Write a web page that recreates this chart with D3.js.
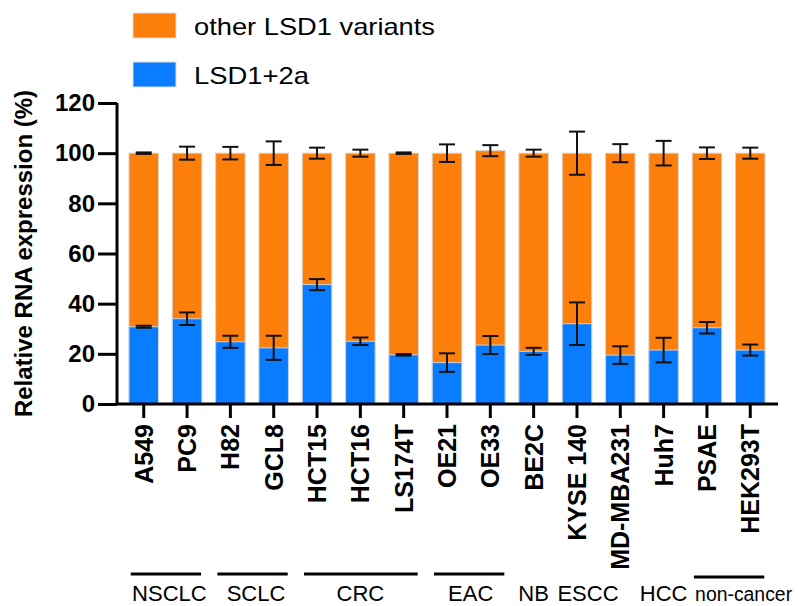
<!DOCTYPE html>
<meta charset="utf-8">
<script src="https://d3js.org/d3.v7.min.js"></script>
<style>
  body { margin: 0; background: #fff; }
  svg { font-family: "Liberation Sans", Arial, sans-serif; }
</style>
<div id="my_dataviz"></div>
<script>
// cell lines and values (%)
var cellLines = ["A549", "PC9", "H82", "GCL8", "HCT15", "HCT16", "LS174T", "OE21", "OE33",
                 "BE2C", "KYSE 140", "MD-MBA231", "Huh7", "PSAE", "HEK293T"];
var lsd2a    = [30.8, 34, 24.8, 22.4, 47.6, 25, 19.6, 16.5, 23.5, 21, 32, 19.5, 21.5, 30.4, 21.5];
var lsd2aErr = [0.4, 2.5, 2.4, 4.8, 2.2, 1.5, 0.3, 3.7, 3.6, 1.4, 8.5, 3.5, 4.9, 2.3, 2.2];
var total    = [100, 100, 100, 100, 100, 100, 100, 100, 101, 100, 100, 100, 100, 100, 100];
var totalErr = [0.3, 2.6, 2.5, 4.7, 2.2, 1.4, 0.3, 3.5, 2.2, 1.4, 8.6, 3.6, 4.9, 2.3, 2.2];

// tumour groups (first and last cell line index), and whether a bracket line is drawn
var groupNames = ["NSCLC", "SCLC", "CRC", "EAC", "NB", "ESCC", "HCC", "non-cancer"];
var groupFrom  = [0, 2, 4, 7, 9, 10, 12, 13];
var groupTo    = [1, 3, 6, 8, 9, 10, 12, 14];
var groupLine  = [true, true, true, true, false, false, false, true];

var yTicks = [0, 20, 40, 60, 80, 100, 120];
var seriesNames = ["other LSD1 variants", "LSD1+2a"];

var orange = "#fc7f0b", blue = "#0a7cff";

var width = 798, height = 606;
var svg = d3.select("#my_dataviz")
  .append("svg")
    .attr("width", width)
    .attr("height", height);

// scales
var x = d3.scaleBand()
  .domain(cellLines)
  .range([117, 777])
  .paddingInner(0.32)
  .paddingOuter(0.277);

var y = d3.scaleLinear()
  .domain([0, 120])
  .range([404, 103]);

// bars: total (orange) then LSD1+2a (blue) on top
svg.append("g").selectAll("rect")
  .data(cellLines)
  .enter().append("rect")
    .attr("x", function(d) { return x(d); })
    .attr("y", function(d, i) { return y(total[i]); })
    .attr("width", x.bandwidth())
    .attr("height", function(d, i) { return y(0) - y(total[i]); })
    .attr("fill", orange)
    .attr("stroke", "#d9d0c8")
    .attr("stroke-width", 1);

svg.append("g").selectAll("rect")
  .data(cellLines)
  .enter().append("rect")
    .attr("x", function(d) { return x(d); })
    .attr("y", function(d, i) { return y(lsd2a[i]); })
    .attr("width", x.bandwidth())
    .attr("height", function(d, i) { return y(0) - y(lsd2a[i]); })
    .attr("fill", blue)
    .attr("stroke", "#c8d4e0")
    .attr("stroke-width", 1);

// error bars
function errorBars(vals, errs) {
  var g = svg.append("g")
    .attr("stroke", "#111")
    .attr("stroke-width", 2);
  cellLines.forEach(function(d, i) {
    var cx = x(d) + x.bandwidth() / 2;
    var hi = y(vals[i] + errs[i]), lo = y(vals[i] - errs[i]);
    g.append("line").attr("x1", cx).attr("x2", cx).attr("y1", hi).attr("y2", lo);
    g.append("line").attr("x1", cx - 8).attr("x2", cx + 8).attr("y1", hi).attr("y2", hi);
    g.append("line").attr("x1", cx - 8).attr("x2", cx + 8).attr("y1", lo).attr("y2", lo);
  });
}
errorBars(total, totalErr);
errorBars(lsd2a, lsd2aErr);

// Y axis
var yAxis = svg.append("g")
  .attr("transform", "translate(117,0)")
  .call(d3.axisLeft(y).tickValues(yTicks).tickSize(19).tickPadding(3));
yAxis.select(".domain").attr("stroke", "#000").attr("stroke-width", 3)
  .attr("d", "M0," + y(120) + "V" + y(0));
yAxis.selectAll(".tick line").attr("stroke", "#000").attr("stroke-width", 3);
yAxis.selectAll(".tick text")
  .attr("font-size", 24).attr("font-weight", "bold").attr("fill", "#000")
  .attr("font-family", "Liberation Sans, Arial, sans-serif");

// X axis
var xAxis = svg.append("g")
  .attr("transform", "translate(0," + y(0) + ")")
  .call(d3.axisBottom(x).tickSize(14).tickSizeOuter(0).tickPadding(0));
xAxis.select(".domain").attr("stroke", "#000").attr("stroke-width", 3)
  .attr("d", "M116,0H778");
xAxis.selectAll(".tick line").attr("stroke", "#000").attr("stroke-width", 3);
xAxis.selectAll(".tick text")
  .attr("font-size", 25).attr("font-weight", "bold").attr("fill", "#000")
  .attr("font-family", "Liberation Sans, Arial, sans-serif")
  .attr("text-anchor", "end")
  .attr("transform", "rotate(-90)")
  .attr("x", -20)
  .attr("y", 0)
  .attr("dy", "0.36em");

// Y title
svg.append("text")
  .attr("transform", "translate(32," + (y(60)) + ") rotate(-90)")
  .attr("text-anchor", "middle")
  .attr("font-size", 24)
  .attr("font-weight", "bold")
  .text("Relative RNA expression (%)");

// group brackets and names
var labelNudge = { "NSCLC": 4, "SCLC": 4, "EAC": 2, "ESCC": 11, "non-cancer": 15 };
groupNames.forEach(function(name, i) {
  var a = x(cellLines[groupFrom[i]]) + x.bandwidth() / 2;
  var b = x(cellLines[groupTo[i]]) + x.bandwidth() / 2;
  if (groupLine[i]) {
    var ly = name === "non-cancer" ? 577 : 574;
    svg.append("line")
      .attr("x1", a - 13).attr("x2", b + 14)
      .attr("y1", ly).attr("y2", ly)
      .attr("stroke", "#000").attr("stroke-width", 3);
  }
  var t = svg.append("text")
    .attr("x", (a + b) / 2 + (labelNudge[name] || 0))
    .attr("y", 601)
    .attr("text-anchor", "middle")
    .attr("font-size", name === "non-cancer" ? 20 : 22)
    .text(name);
  if (name === "non-cancer") {
    t.attr("textLength", 97).attr("lengthAdjust", "spacingAndGlyphs");
  }
});

// legend
var legendTextWidth = [241, 115];
var legend = svg.append("g");
[orange, blue].forEach(function(c, i) {
  legend.append("rect")
    .attr("x", 133).attr("y", 13 + i * 49)
    .attr("width", 43).attr("height", 25)
    .attr("fill", c)
    .attr("stroke", "#e0e0e0").attr("stroke-width", 1);
  legend.append("text")
    .attr("x", 194).attr("y", 35 + i * 48.5)
    .attr("font-size", 24)
    .attr("textLength", legendTextWidth[i])
    .attr("lengthAdjust", "spacingAndGlyphs")
    .text(seriesNames[i]);
});
</script>
